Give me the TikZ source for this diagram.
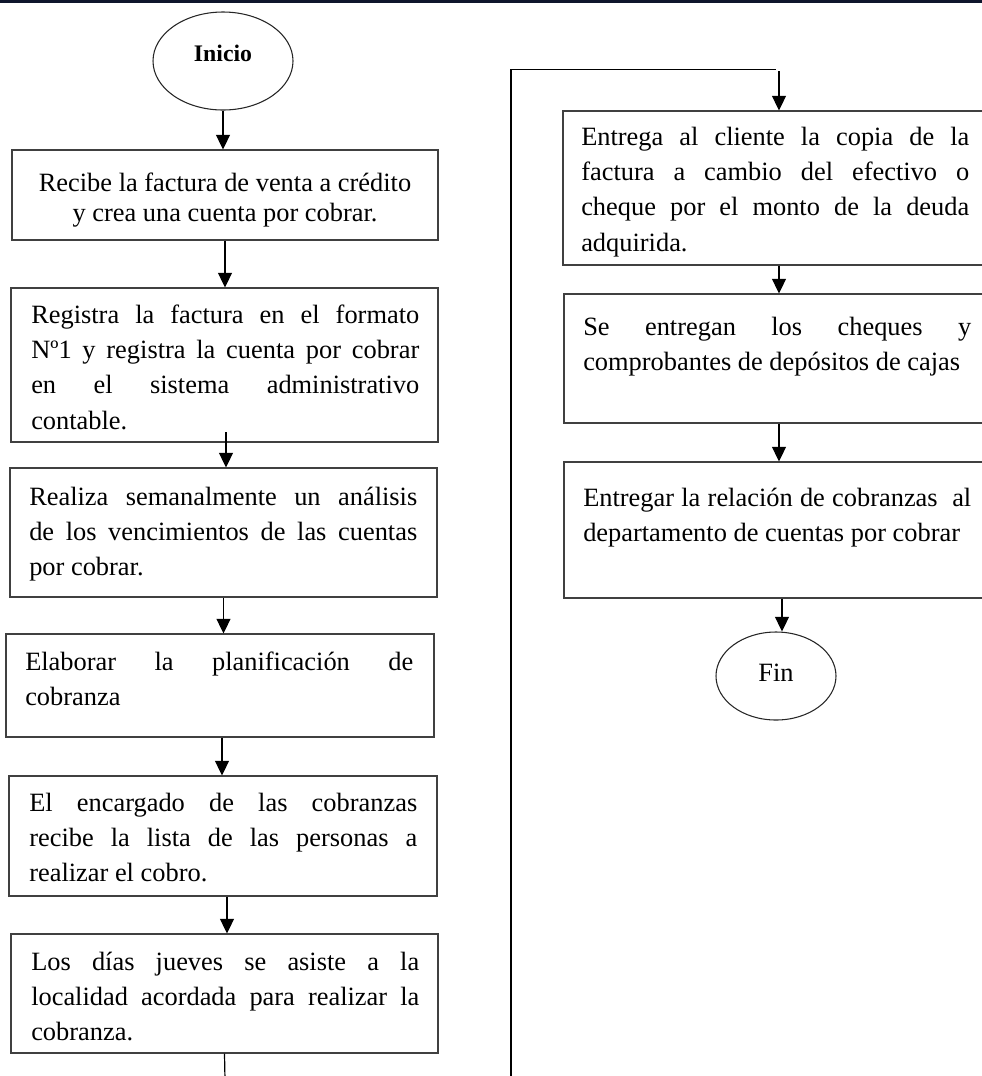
\documentclass[tikz,border=0pt]{standalone}
\usepackage{fontspec}
\setmainfont{Liberation Serif}
\usetikzlibrary{arrows.meta,shapes.geometric,calc}
\definecolor{topnavy}{RGB}{14,22,44}
\newlength{\tw}
\setlength{\tw}{291pt}
\newcommand{\J}[1]{{\spaceskip=0pt\xspaceskip=0pt\makebox[\tw][s]{#1}}}
\newcommand{\Ls}{\spaceskip=0pt\xspaceskip=0pt\strut}
\tikzset{
  pbox/.style={draw=black!75,line width=0.8pt,rectangle,inner sep=0pt},
  term/.style={draw=black!85,line width=0.8pt,ellipse,inner sep=0pt},
  txt/.style={anchor=north west,inner sep=0pt,text width=\tw,align=left,
    font=\fontsize{19.8pt}{26.5pt}\selectfont},
  flow/.style={draw=black,line width=0.9pt},
  arr/.style={flow,-{Triangle[width=10.5pt,length=11pt]}}
}
\begin{document}
\begin{tikzpicture}[x=0.75pt,y=-0.75pt]
\useasboundingbox (0,0) rectangle (982,1076);
\clip (0,0) rectangle (982,1076);
\fill[topnavy] (0,0) rectangle (982,2.6);

% left column
\node[term,minimum width=105pt,minimum height=73.5pt] (e1) at (223,61) {};
\node[inner sep=0pt,font=\fontsize{17.8pt}{20pt}\selectfont\bfseries] (e1t) at (223,53) {Inicio};

\node[pbox,minimum width=319.5pt,minimum height=67.5pt] (b1) at (225,195) {};
\node[anchor=north,inner sep=0pt,align=center,font=\fontsize{19.8pt}{22.5pt}\selectfont] (t1) at (225,170)
  {\Ls Recibe la factura de venta a crédito\\y crea una cuenta por cobrar.};

\node[pbox,minimum width=320.25pt,minimum height=115.5pt] (b2) at (224.5,365) {};
\node[txt] (t2) at (31,298.3) {\Ls\J{Registra la factura en el formato}\\\J{Nº1 y registra la cuenta por cobrar}\\\J{en el sistema administrativo}\\contable.};

\node[pbox,minimum width=320.25pt,minimum height=96.75pt] (b3) at (223.5,532.5) {};
\node[txt] (t3) at (29,480.3) {\Ls\J{Realiza semanalmente un análisis}\\\J{de los vencimientos de las cuentas}\\por cobrar.};

\node[pbox,minimum width=321pt,minimum height=77.25pt] (b4) at (220,685.5) {};
\node[txt] (t4) at (25,645.3) {\Ls\J{Elaborar la planificación de}\\cobranza};

\node[pbox,minimum width=321pt,minimum height=90pt] (b5) at (223,836) {};
\node[txt] (t5) at (29,786.3) {\Ls\J{El encargado de las cobranzas}\\\J{recibe la lista de las personas a}\\realizar el cobro.};

\node[pbox,minimum width=320.25pt,minimum height=89.25pt] (b6) at (224.5,993.5) {};
\node[txt] (t6) at (31,945.3) {\Ls\J{Los días jueves se asiste a la}\\\J{localidad acordada para realizar la}\\cobranza.};

% right column
\node[pbox,minimum width=324pt,minimum height=115.5pt] (b7) at (779,188) {};
\node[txt] (t7) at (581,120.3) {\Ls\J{Entrega al cliente la copia de la}\\\J{factura a cambio del efectivo o}\\\J{cheque por el monto de la deuda}\\adquirida.};

\node[pbox,minimum width=322.5pt,minimum height=96.75pt] (b8) at (779,358.5) {};
\node[txt] (t8) at (583,310.3) {\Ls\J{Se entregan los cheques y}\\comprobantes de depósitos de cajas};

\node[pbox,minimum width=327pt,minimum height=102pt] (b9) at (782,530) {};
\node[txt] (t9) at (583,481.3) {\Ls\J{Entregar la relación de cobranzas\ \ al}\\departamento de cuentas por cobrar};

\node[term,minimum width=90pt,minimum height=66pt] (fin) at (776,676) {};
\node[inner sep=0pt,font=\fontsize{19.8pt}{22pt}\selectfont] (fint) at (776,673) {Fin};

% connectors
\coordinate (c1) at (225,1080);
\coordinate (c2) at (511,1080);
\coordinate (c3) at (511,69.5);
\coordinate (c4) at (776,69.5);
\coordinate (c5) at (779,71);
\coordinate (s2) at (226,432);

\draw[arr] (e1.south) -- (e1.south |- b1.north);
\draw[arr] (b1.south) -- (b1.south |- b2.north);
\draw[arr] (s2) -- (s2 |- b3.north);
\draw[arr] (b3.south) -- (b3.south |- b4.north);
\draw[arr] ([xshift=1.5pt]b4.south) -- ([xshift=1.5pt]b4.south |- b5.north);
\draw[arr] ([xshift=3pt]b5.south) -- ([xshift=3pt]b5.south |- b6.north);
\draw[flow] (b6.south) -- (c1);
\draw[flow] (c2) -- (c3) -- (c4);
\draw[arr] (c5) -- (c5 |- b7.north);
\draw[arr] (b7.south) -- (b8.north);
\draw[arr] (b8.south) -- (b8.south |- b9.north);
\draw[arr] (b9.south) -- (b9.south |- fin.north);
\end{tikzpicture}
\end{document}
